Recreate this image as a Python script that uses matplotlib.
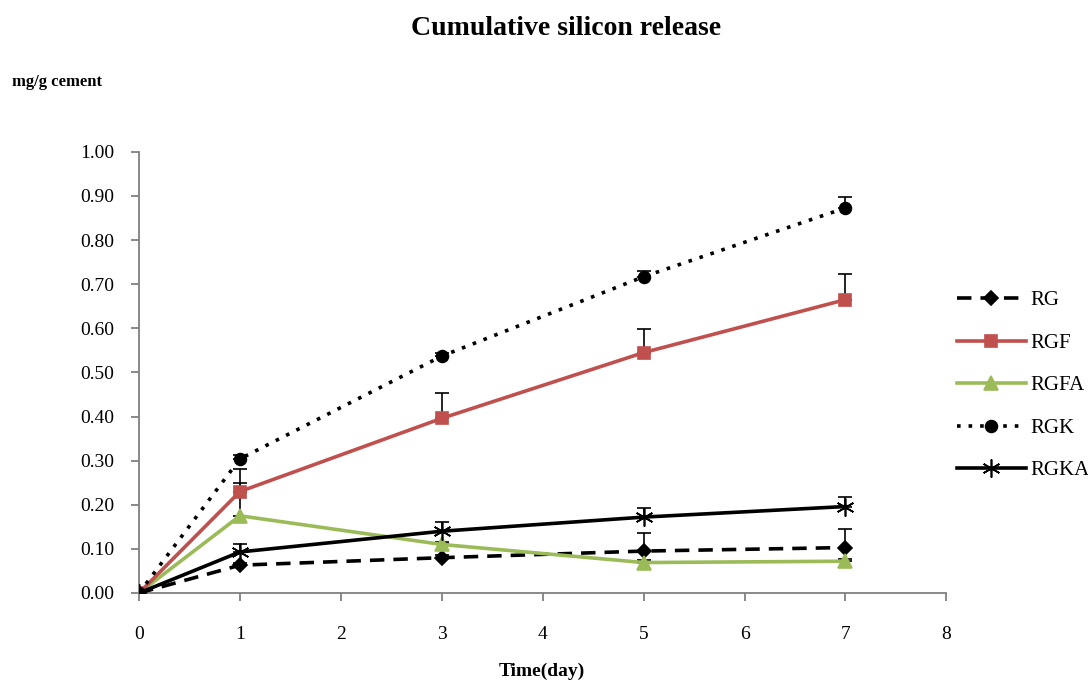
import numpy as np
import matplotlib.pyplot as plt

plt.rcParams['font.family'] = ['Liberation Serif', 'DejaVu Serif']

days = [0, 1, 3, 5, 7]

rg = [0.0, 0.063, 0.080, 0.095, 0.103]
rg_err = [0.0, 0.005, 0.005, 0.042, 0.043]
rgf = [0.0, 0.230, 0.396, 0.545, 0.665]
rgf_err = [0.0, 0.050, 0.058, 0.053, 0.058]
rgfa = [0.0, 0.175, 0.110, 0.069, 0.072]
rgfa_err = [0.0, 0.075, 0.005, 0.005, 0.005]
rgk = [0.0, 0.304, 0.537, 0.717, 0.873]
rgk_err = [0.0, 0.008, 0.008, 0.014, 0.024]
rgka = [0.0, 0.093, 0.140, 0.172, 0.196]
rgka_err = [0.0, 0.018, 0.020, 0.020, 0.022]

fig = plt.figure(figsize=(10.88, 6.86), dpi=100)
ax = fig.add_axes([0.1278, 0.1356, 0.742, 0.643])

def draw(y, err, label, color, ls, marker, ms, z):
    ax.errorbar(days, y, yerr=[np.zeros(len(err)), err], fmt='none',
                ecolor='black', elinewidth=1.2, capsize=5, capthick=1.2, zorder=z)
    ax.plot(days, y, color=color, linestyle=ls, linewidth=2.6, marker=marker,
            markersize=ms, markeredgewidth=1.2, label=label, zorder=z + 0.5)

draw(rg, rg_err, 'RG', 'black', (0, (4, 2.5)), 'D', 7.5, 3)
draw(rgf, rgf_err, 'RGF', '#C0504D', '-', 's', 8.5, 4)
draw(rgfa, rgfa_err, 'RGFA', '#9BBB59', '-', '^', 10, 3)
draw(rgk, rgk_err, 'RGK', 'black', (0, (1, 2.2)), 'o', 8.5, 5)
draw(rgka, rgka_err, 'RGKA', 'black', '-', (6, 2, 0), 13, 4)

ax.set_xlim(0, 8)
ax.set_ylim(0, 1.0)
ax.set_xticks(range(0, 9))
ax.set_yticks(np.arange(0, 1.01, 0.1))
ax.set_yticklabels(['%.2f' % v for v in np.arange(0, 1.01, 0.1)])
ax.tick_params(labelsize=14, color='#808080', length=6, width=1.3)
for s in ['top', 'right']:
    ax.spines[s].set_visible(False)
for s in ['left', 'bottom']:
    ax.spines[s].set_color('#808080')
    ax.spines[s].set_linewidth(1.3)
ax.tick_params(axis='x', pad=18)
ax.tick_params(axis='y', pad=12)

fig.text(0.498, 0.022, 'Time(day)', fontsize=14, fontweight='bold',
         ha='center', va='center')
fig.text(0.52, 0.958, 'Cumulative silicon release', fontsize=20,
         fontweight='bold', ha='center', va='center')
fig.text(0.011, 0.88, 'mg/g cement', fontsize=12, fontweight='bold',
         ha='left', va='center')

ax.legend(loc='center left', bbox_to_anchor=(0.99, 0.47), frameon=False,
          fontsize=15, handlelength=3.3, labelspacing=1.1, handletextpad=0.2)

plt.savefig('out.png', dpi=100)
